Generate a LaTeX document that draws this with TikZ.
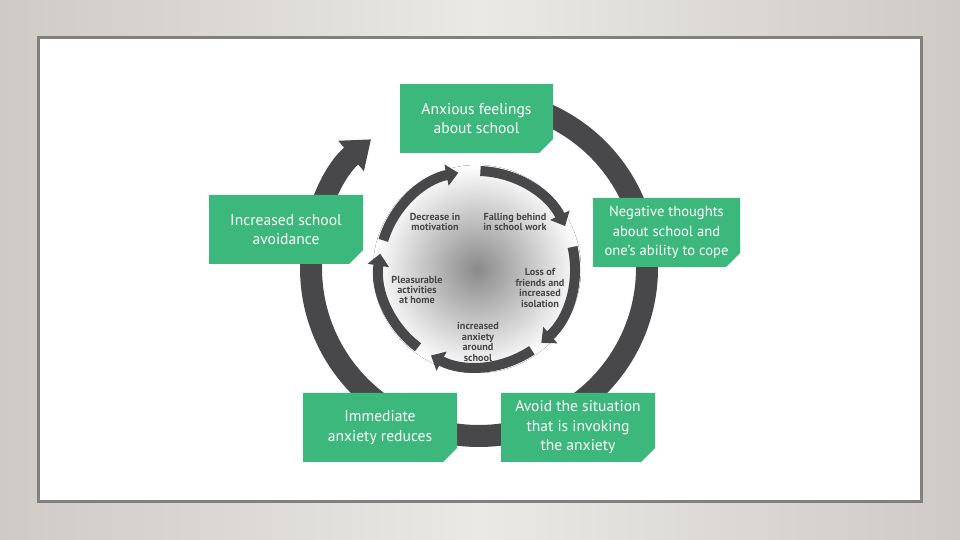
\documentclass[tikz,border=0pt]{standalone}
\usepackage{fontspec}
\setmainfont{PT Sans}
\usetikzlibrary{arrows.meta,shapes.misc,positioning}
\definecolor{boxgreen}{RGB}{61,184,125}
\definecolor{ringgray}{RGB}{72,72,74}
\definecolor{bgedge}{RGB}{206,202,197}
\definecolor{bgmid}{RGB}{234,233,229}

\begin{document}
\begin{tikzpicture}
		[x=1pt, y=1pt,
		boxsty/.style={chamfered rectangle, chamfered rectangle corners=south east,
			chamfered rectangle xsep=7pt, chamfered rectangle ysep=7pt,
			fill=boxgreen, text=white, inner sep=0pt, minimum width=154pt, minimum height=69pt,
			align=center, font=\fontsize{15.6}{19.5}\selectfont},
		textsty/.style={align=center, text=black!72, font=\bfseries\fontsize{10.2}{10.4}\selectfont},
		outring/.style={draw=ringgray, line width=22pt, -{Triangle[width=38pt,length=26pt]}},
		inarc/.style={draw=ringgray, line width=10pt, -{Triangle[width=21pt,length=12pt]}}]
		\useasboundingbox (0,0) rectangle (960,540);
		\shade[left color=bgedge, right color=bgedge, middle color=bgmid] (0,0) rectangle (960,540);
		\draw[draw=black!50, line width=3pt, fill=white] (38,38) rectangle (921,502);
		
		\coordinate (outer centre) at (479,272);
		\coordinate (inner centre) at (477,271);
		
		\draw[outring] (outer centre) ++(92:168) arc[start angle=92, end angle=-230, radius=168];
		
		\fill[inner color=black!46, outer color=white] (inner centre) circle (104);
		\foreach \a in {163,88,13,-56,-127}
			\draw[inarc] (inner centre) ++(\a:98) arc[start angle=\a, delta angle=-62, radius=98];
		
		\node (box 1) at (476.5,421.5) [boxsty, minimum width=153pt] {Anxious feelings\\about school};
		\node (box 2) at (666.5,307.5) [boxsty, minimum width=147pt, font=\fontsize{14.6}{19.5}\selectfont] {Negative thoughts\\about school and\\one’s ability to cope};
		\node (box 3) at (578,112.5) [boxsty] {Avoid the situation\\that is invoking\\the anxiety};
		\node (box 4) at (380,112.5) [boxsty] {Immediate\\anxiety reduces};
		\node (box 5) at (286,310.5) [boxsty] {Increased school\\avoidance};
		
		\node (text 1) at (435,318) [textsty] {Decrease in\\motivation};
		\node (text 2) at (515,318) [textsty] {Falling behind\\in school work};
		\node (text 3) at (540,252) [textsty] {Loss of\\friends and\\increased\\isolation};
		\node (text 4) at (478,198) [textsty] {increased\\anxiety\\around\\school};
		\node (text 5) at (417,250) [textsty] {Pleasurable\\activities\\at home};
	\end{tikzpicture}
\end{document}
